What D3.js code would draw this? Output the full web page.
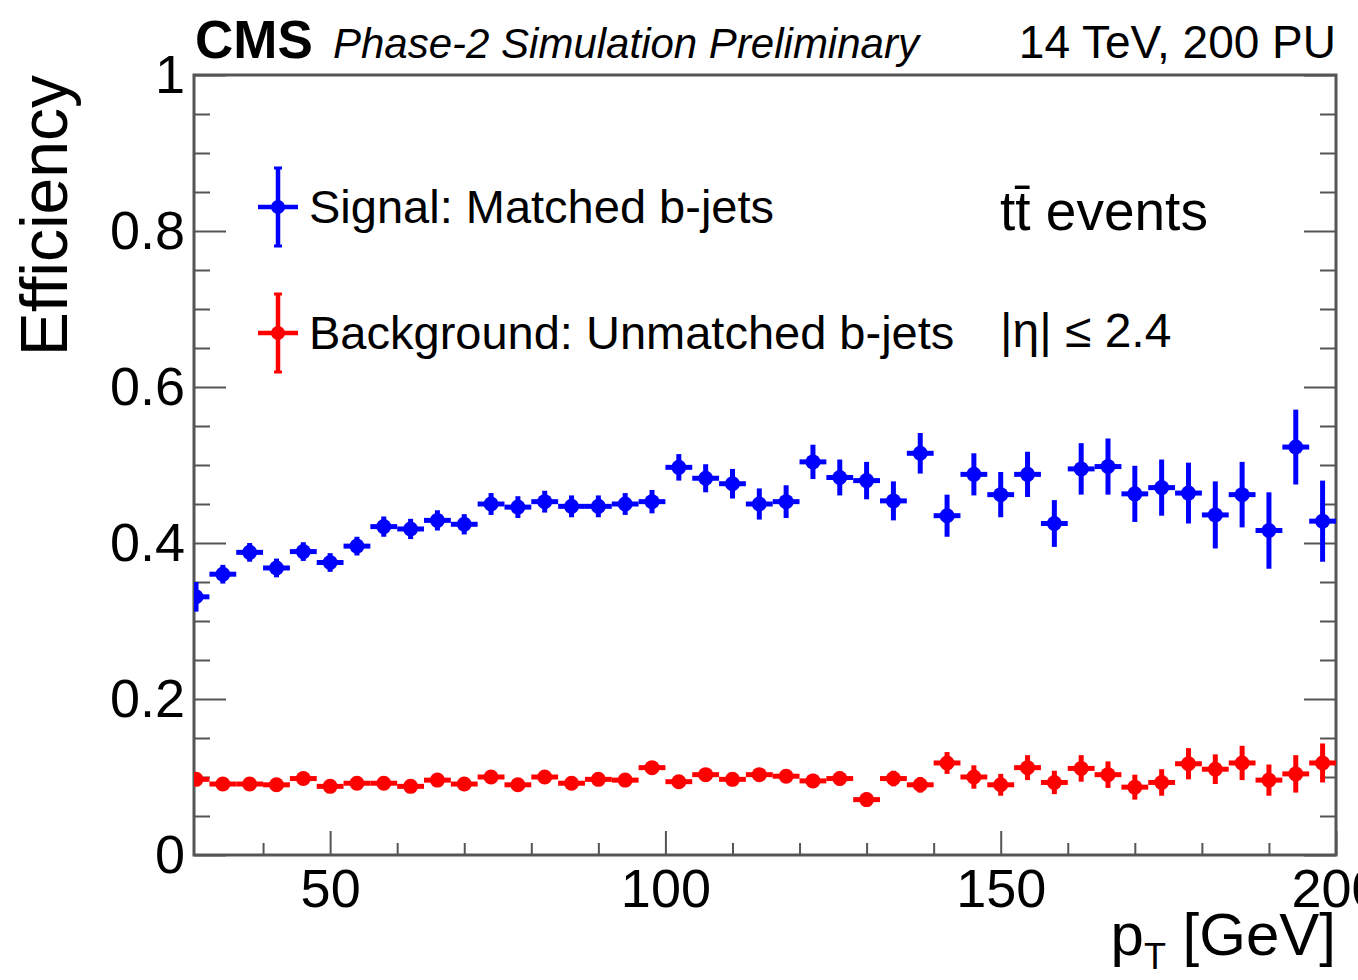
<!DOCTYPE html>
<html>
<head>
<meta charset="utf-8">
<script src="https://cdn.jsdelivr.net/npm/d3@7"></script>
<style>
  html, body { margin: 0; padding: 0; background: #fff; }
  text { font-family: "Liberation Sans", Arial, Helvetica, sans-serif; }
</style>
</head>
<body>
<div id="chart"></div>
<script>
const width = 1358;
const height = 980;

// Bin centres in pT [GeV]
const ptBins = [30, 34, 38, 42, 46, 50, 54, 58, 62, 66, 70, 74, 78, 82, 86, 90, 94, 98,
  102, 106, 110, 114, 118, 122, 126, 130, 134, 138, 142, 146, 150, 154, 158, 162,
  166, 170, 174, 178, 182, 186, 190, 194, 198];
const binHalfWidth = 2;

// Signal: matched b-jets
const sigEff = [0.331, 0.360, 0.388, 0.368, 0.389, 0.375, 0.396, 0.421, 0.418, 0.429,
  0.424, 0.450, 0.446, 0.453, 0.447, 0.447, 0.450, 0.453, 0.497, 0.483, 0.476, 0.450,
  0.453, 0.504, 0.484, 0.480, 0.454, 0.515, 0.435, 0.488, 0.462, 0.488, 0.425, 0.495,
  0.498, 0.463, 0.471, 0.464, 0.436, 0.462, 0.416, 0.523, 0.428];
const sigErr = [0.019, 0.012, 0.012, 0.012, 0.012, 0.012, 0.012, 0.013, 0.013, 0.013,
  0.013, 0.014, 0.014, 0.014, 0.014, 0.014, 0.014, 0.015, 0.017, 0.018, 0.019, 0.020,
  0.021, 0.022, 0.023, 0.024, 0.025, 0.026, 0.027, 0.027, 0.029, 0.029, 0.030, 0.033,
  0.036, 0.036, 0.036, 0.039, 0.043, 0.042, 0.049, 0.048, 0.052];

// Background: unmatched b-jets
const bkgEff = [0.097, 0.091, 0.091, 0.090, 0.098, 0.088, 0.092, 0.092, 0.088, 0.096,
  0.091, 0.100, 0.090, 0.100, 0.092, 0.097, 0.096, 0.112, 0.094, 0.103, 0.097, 0.103,
  0.101, 0.095, 0.098, 0.071, 0.098, 0.090, 0.118, 0.100, 0.090, 0.112, 0.093, 0.111,
  0.103, 0.087, 0.093, 0.117, 0.110, 0.118, 0.096, 0.104, 0.118];
const bkgErr = [0.006, 0.006, 0.006, 0.006, 0.006, 0.006, 0.006, 0.006, 0.006, 0.006,
  0.006, 0.006, 0.006, 0.006, 0.006, 0.006, 0.007, 0.008, 0.008, 0.008, 0.008, 0.008,
  0.008, 0.009, 0.009, 0.009, 0.010, 0.010, 0.014, 0.015, 0.014, 0.016, 0.015, 0.017,
  0.017, 0.016, 0.017, 0.020, 0.019, 0.022, 0.020, 0.024, 0.025];

const xMajor = [50, 100, 150, 200];
const xMinor = [40, 60, 70, 80, 90, 110, 120, 130, 140, 160, 170, 180, 190];
const yMajor = [0, 0.2, 0.4, 0.6, 0.8, 1];
const yMinor = [0.05, 0.1, 0.15, 0.25, 0.3, 0.35, 0.45, 0.5, 0.55, 0.65, 0.7, 0.75, 0.85, 0.9, 0.95];

const series = [
  { name: "Signal: Matched b-jets", colour: "#0000ff", eff: sigEff, err: sigErr },
  { name: "Background: Unmatched b-jets", colour: "#ff0000", eff: bkgEff, err: bkgErr },
];

const frame = { left: 194, right: 1336, top: 75, bottom: 855 };

const x = d3.scaleLinear().domain([29.7, 200]).range([frame.left, frame.right]);
const y = d3.scaleLinear().domain([0, 1]).range([frame.bottom, frame.top]);

const svg = d3.create("svg")
    .attr("width", width)
    .attr("height", height);

svg.append("defs").append("clipPath")
    .attr("id", "plot-clip")
  .append("rect")
    .attr("x", frame.left)
    .attr("y", frame.top)
    .attr("width", frame.right - frame.left)
    .attr("height", frame.bottom - frame.top);

const axisColour = "#555";
const tickFont = 54;

// --- Axes ---
const gx = svg.append("g").attr("transform", `translate(0,${frame.bottom})`);
gx.call(d3.axisBottom(x).tickValues(xMajor).tickSize(-24).tickPadding(14).tickFormat(d3.format("d")));
gx.append("g").call(d3.axisBottom(x).tickValues(xMinor).tickSize(-12).tickFormat(""));

const gy = svg.append("g").attr("transform", `translate(${frame.left},0)`);
gy.call(d3.axisLeft(y).tickValues(yMajor).tickSize(-32).tickPadding(9)
    .tickFormat(d => d === 0 || d === 1 ? d3.format("d")(d) : d3.format(".1f")(d)));
gy.append("g").call(d3.axisLeft(y).tickValues(yMinor).tickSize(-16).tickFormat(""));

const gyr = svg.append("g").attr("transform", `translate(${frame.right},0)`);
gyr.call(d3.axisRight(y).tickValues(yMajor).tickSize(-32).tickFormat(""));
gyr.append("g").call(d3.axisRight(y).tickValues(yMinor).tickSize(-16).tickFormat(""));

svg.selectAll(".domain").remove();
svg.selectAll(".tick line").attr("stroke", axisColour).attr("stroke-width", 2);
svg.selectAll(".tick text")
    .attr("font-size", tickFont)
    .attr("fill", "#000")
    .attr("font-family", "Liberation Sans, Arial, sans-serif");

// Frame box
svg.append("rect")
    .attr("x", frame.left)
    .attr("y", frame.top)
    .attr("width", frame.right - frame.left)
    .attr("height", frame.bottom - frame.top)
    .attr("fill", "none")
    .attr("stroke", axisColour)
    .attr("stroke-width", 3);

// --- Data points with error bars ---
const plot = svg.append("g").attr("clip-path", "url(#plot-clip)");

series.forEach(s => {
    const pts = ptBins.map((pt, i) => ({ pt, eff: s.eff[i], err: s.err[i] }));
    const g = plot.append("g")
        .attr("stroke", s.colour)
        .attr("fill", s.colour);

    g.selectAll("line.xerr")
        .data(pts)
        .join("line")
        .attr("class", "xerr")
        .attr("x1", d => x(d.pt - binHalfWidth))
        .attr("x2", d => x(d.pt + binHalfWidth))
        .attr("y1", d => y(d.eff))
        .attr("y2", d => y(d.eff))
        .attr("stroke-width", 5);

    g.selectAll("line.yerr")
        .data(pts)
        .join("line")
        .attr("class", "yerr")
        .attr("x1", d => x(d.pt))
        .attr("x2", d => x(d.pt))
        .attr("y1", d => y(d.eff - d.err))
        .attr("y2", d => y(d.eff + d.err))
        .attr("stroke-width", 5);

    g.selectAll("circle")
        .data(pts)
        .join("circle")
        .attr("cx", d => x(d.pt))
        .attr("cy", d => y(d.eff))
        .attr("r", 7.5)
        .attr("stroke", "none");
});

// --- Legend ---
const legend = svg.append("g");
series.forEach((s, i) => {
    const cy = 207 + i * 126;
    const cx = 278;
    const row = legend.append("g").attr("stroke", s.colour).attr("fill", s.colour);
    row.append("line").attr("x1", cx - 20).attr("x2", cx + 20).attr("y1", cy).attr("y2", cy).attr("stroke-width", 4.5);
    row.append("line").attr("x1", cx).attr("x2", cx).attr("y1", cy - 39).attr("y2", cy + 39).attr("stroke-width", 4.5);
    row.append("line").attr("x1", cx - 4).attr("x2", cx + 4).attr("y1", cy - 39).attr("y2", cy - 39).attr("stroke-width", 3);
    row.append("line").attr("x1", cx - 4).attr("x2", cx + 4).attr("y1", cy + 39).attr("y2", cy + 39).attr("stroke-width", 3);
    row.append("circle").attr("cx", cx).attr("cy", cy).attr("r", 7).attr("stroke", "none");
    legend.append("text")
        .attr("x", 309)
        .attr("y", cy + 16)
        .attr("font-size", 47)
        .attr("fill", "#000")
        .text(s.name);
});

// --- Annotations ---
svg.append("text")
    .attr("x", 1000)
    .attr("y", 230)
    .attr("font-size", 55)
    .attr("fill", "#000")
    .text("tt\u0304 events");

svg.append("text")
    .attr("x", 1000)
    .attr("y", 347)
    .attr("font-size", 48)
    .attr("fill", "#000")
    .text("|\u03b7| \u2264 2.4");

// --- Header ---
svg.append("text")
    .attr("x", 195)
    .attr("y", 58)
    .attr("font-size", 53)
    .attr("font-weight", "bold")
    .attr("fill", "#000")
    .text("CMS");

svg.append("text")
    .attr("x", 333)
    .attr("y", 58)
    .attr("font-size", 42)
    .attr("font-style", "italic")
    .attr("fill", "#000")
    .text("Phase-2 Simulation Preliminary");

svg.append("text")
    .attr("x", 1336)
    .attr("y", 58)
    .attr("font-size", 46)
    .attr("text-anchor", "end")
    .attr("fill", "#000")
    .text("14 TeV, 200 PU");

// --- Axis titles ---
svg.append("text")
    .attr("transform", "translate(67,75) rotate(-90)")
    .attr("text-anchor", "end")
    .attr("font-size", 66)
    .attr("fill", "#000")
    .text("Efficiency");

const xTitle = svg.append("text")
    .attr("x", 1336)
    .attr("y", 955)
    .attr("text-anchor", "end")
    .attr("font-size", 60)
    .attr("fill", "#000");
xTitle.append("tspan").text("p");
xTitle.append("tspan").attr("font-size", 36).attr("dy", 14).text("T");
xTitle.append("tspan").attr("dy", -14).text(" [GeV]");

document.querySelector("#chart").append(svg.node());
</script>
</body>
</html>
